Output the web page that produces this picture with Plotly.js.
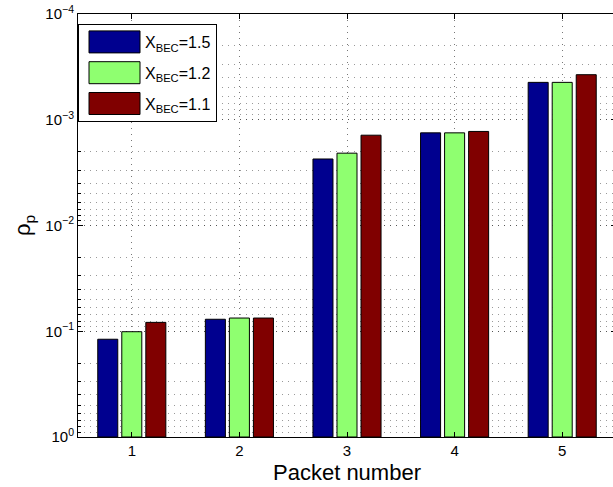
<!DOCTYPE html>
<html><head><meta charset="utf-8">
<script src="https://cdn.plot.ly/plotly-3.0.1.min.js"></script>
<style>html,body{margin:0;padding:0;overflow:hidden;background:#fff}#chart{width:618px;height:487px}</style>
</head><body><div id="chart"></div>
<script>
const packets = [1, 2, 3, 4, 5];
const xTickText = ['1', '2', '3', '4', '5'];
const seriesNames = ['X<sub>BEC</sub>=1.5', 'X<sub>BEC</sub>=1.2', 'X<sub>BEC</sub>=1.1'];
const rhoX15 = [0.119, 0.077, 0.00235, 0.00133, 0.000443];
const rhoX12 = [0.101, 0.075, 0.00207, 0.00133, 0.000443];
const rhoX11 = [0.0824, 0.075, 0.00140, 0.00129, 0.000375];
const yTickVals = [1, 0.1, 0.01, 0.001, 0.0001];
const yTickText = ['10<sup>0</sup>', '10<sup>−1</sup>', '10<sup>−2</sup>', '10<sup>−3</sup>', '10<sup>−4</sup>'];

const colors = ['#00008f', '#8fff70', '#800000'];
const allSeries = [rhoX15, rhoX12, rhoX11];
const barBase = 1; // bars grow from 10^0 (bottom of the reversed log axis)

const traces = allSeries.map((vals, i) => ({
  type: 'bar',
  x: packets,
  // with a base, Plotly draws the bar from base to base + y
  y: vals.map(v => v - barBase),
  base: barBase,
  name: seriesNames[i],
  legendgroup: 'g' + i,
  marker: {color: colors[i], line: {color: '#000', width: 1}},
  customdata: vals,
  hovertemplate: '%{customdata}<extra></extra>'
}));

const font = 'Liberation Sans, Arial, sans-serif';
const layout = {
  width: 618, height: 487,
  margin: {l: 78, r: 2, t: 14, b: 50},
  paper_bgcolor: '#fff', plot_bgcolor: '#fff',
  font: {family: font, color: '#000', size: 15},
  barmode: 'group',
  bargap: 0.33,
  bargroupgap: 0.167,
  showlegend: true,
  legend: {
    x: 0, y: 1 - 10/423, xanchor: 'left', yanchor: 'top',
    bgcolor: '#fff', bordercolor: '#000', borderwidth: 1,
    font: {family: font, size: 16, color: '#000'},
    itemwidth: 56, tracegroupgap: 7, traceorder: 'grouped'
  },
  xaxis: {
    range: [0.5, 5.5], tickmode: 'array', tickvals: packets, ticktext: xTickText,
    showline: true, linecolor: '#000', linewidth: 1, mirror: 'ticks',
    ticks: 'inside', ticklen: 5, tickcolor: '#000',
    showgrid: true, gridcolor: '#777', griddash: '1px,5px', gridwidth: 1,
    zeroline: false, tickfont: {size: 15},
    title: {text: 'Packet number', font: {size: 22}, standoff: 6}
  },
  yaxis: {
    type: 'log', range: [0, -4], autorange: false,
    tickmode: 'array', tickvals: yTickVals, ticktext: yTickText,
    showline: true, linecolor: '#000', linewidth: 1, mirror: 'ticks',
    ticks: 'inside', ticklen: 5, tickcolor: '#000',
    showgrid: true, gridcolor: '#555', griddash: '1px,5px', gridwidth: 1,
    zeroline: false, tickfont: {size: 15},
    minor: {tickmode: 'linear', dtick: 'D1', ticks: 'inside', ticklen: 3, tickcolor: '#000',
            showgrid: true, gridcolor: '#999', griddash: '1px,5px', gridwidth: 1},
    title: {text: 'ρ<sub>p</sub>', font: {size: 22}, standoff: 8}
  }
};

Plotly.newPlot('chart', traces, layout, {displayModeBar: false, staticPlot: true}).then(gd => {
  document.querySelectorAll('.legend .legendpoints path').forEach(p => {
    p.setAttribute('d', 'M28,11H-23V-11H28Z');
    p.style.strokeWidth = '1px';
    p.style.stroke = '#000';
  });
});
</script>
</body></html>
